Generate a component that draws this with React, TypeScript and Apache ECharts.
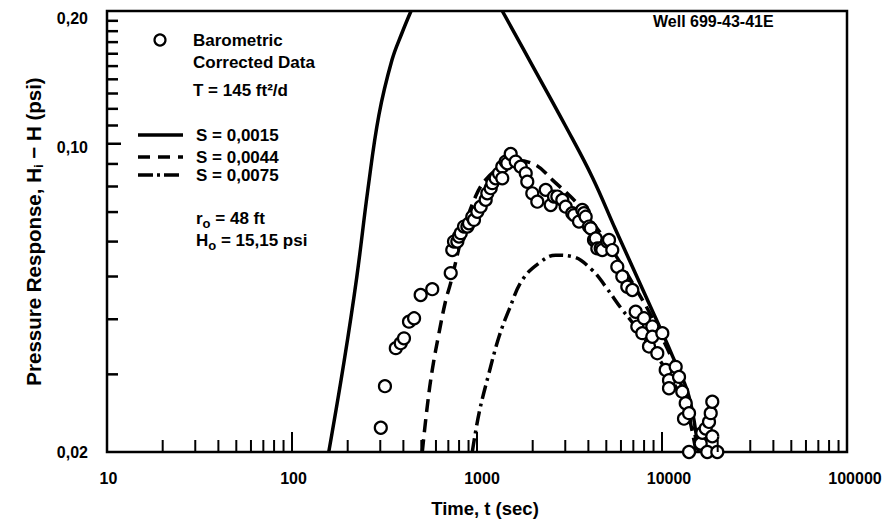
import React, { useEffect, useRef } from "react";
import * as echarts from "echarts";

// ---- data ----
const X_MIN = 10;
const X_MAX = 100000;
const Y_MIN = 0.02;
const Y_MAX = 0.2;

// Theis curve, S = 0.0015 (rising and falling branches; peak is off the chart)
const solidRise: number[][] = [
  [158, 0.02], [191, 0.032], [224, 0.0499], [257, 0.0786], [295, 0.1162],
  [347, 0.1548], [393, 0.1783], [440, 0.2],
];
const solidFall: number[][] = [
  [1370, 0.2], [2000, 0.15], [3000, 0.11], [4200, 0.084], [5600, 0.064],
  [8500, 0.0435], [11400, 0.033], [14000, 0.0267], [15700, 0.02],
];
// S = 0.0044
const dashedCurve: number[][] = [
  [506, 0.02], [538, 0.0253], [573, 0.0307], [623, 0.0372], [678, 0.0442],
  [720, 0.0483], [850, 0.064], [982, 0.0759], [1112, 0.0828], [1350, 0.089],
  [1585, 0.0918], [2075, 0.0895], [2553, 0.0828], [3500, 0.073], [5000, 0.06],
  [7000, 0.048], [9500, 0.038], [12500, 0.029], [15300, 0.02],
];
// S = 0.0075
const dashDotCurve: number[][] = [
  [943, 0.02], [1026, 0.0245], [1161, 0.0302], [1315, 0.0365], [1489, 0.042],
  [1758, 0.0491], [2163, 0.0536], [2662, 0.0559], [3276, 0.0555], [4200, 0.0517],
  [4958, 0.0474], [6100, 0.042], [6765, 0.0398], [8500, 0.035], [11400, 0.029],
  [14000, 0.024], [16000, 0.02],
];
// Barometric corrected data
const observed: number[][] = [
  [302, 0.0227], [318, 0.0282], [364, 0.0344], [387, 0.0353], [403, 0.0362],
  [429, 0.0395], [457, 0.0402], [496, 0.0454], [573, 0.0468], [721, 0.0509],
  [735, 0.0574], [751, 0.06], [783, 0.06], [799, 0.0616], [817, 0.0627],
  [851, 0.0649], [887, 0.0649], [905, 0.066], [943, 0.0683], [963, 0.0672],
  [1004, 0.0701], [1047, 0.072], [1114, 0.0746], [1137, 0.0772], [1186, 0.0793],
  [1210, 0.0814], [1262, 0.0835], [1315, 0.0857], [1370, 0.0887], [1370, 0.0835],
  [1429, 0.0911], [1458, 0.0903], [1521, 0.0948], [1619, 0.0911], [1723, 0.0887],
  [1834, 0.0857], [1870, 0.082], [1990, 0.0772], [2118, 0.0739], [2352, 0.0786],
  [2503, 0.0726], [2608, 0.0759], [2718, 0.0759], [2892, 0.0746], [3017, 0.072],
  [3274, 0.0696], [3345, 0.0689], [3559, 0.0666], [3709, 0.0708], [3788, 0.0696],
  [3869, 0.0683], [4031, 0.0649], [4118, 0.0643], [4290, 0.0605], [4382, 0.061],
  [4471, 0.0579], [4662, 0.0579], [4756, 0.0574], [5062, 0.06], [5171, 0.0605],
  [5387, 0.0574], [5733, 0.0526], [6101, 0.05], [6493, 0.0474], [6911, 0.0466],
  [7207, 0.0416], [7353, 0.0385], [7825, 0.0372], [7992, 0.0402], [8505, 0.0347],
  [8862, 0.0385], [8862, 0.0365], [9432, 0.0335], [10040, 0.0372], [10470, 0.0307],
  [10910, 0.0291], [10910, 0.0279], [11860, 0.0312], [12360, 0.0296], [12870, 0.0274],
  [13150, 0.0238], [13430, 0.0258], [14000, 0.0245], [14000, 0.02], [16190, 0.0209],
  [16510, 0.0221], [17230, 0.0226], [17570, 0.02], [17950, 0.0234], [18340, 0.0245],
  [18700, 0.026], [18700, 0.0217], [19900, 0.02],
];

// tick marks
const xMajorTicks = [100, 1000, 10000];
const xMinorTicks = [
  20, 30, 40, 50, 60, 70, 80, 90,
  200, 300, 400, 500, 600, 700, 800, 900,
  2000, 3000, 4000, 5000, 6000, 7000, 8000, 9000,
  20000, 30000, 40000, 50000, 60000, 70000, 80000, 90000,
];
const yMajorTicks = [0.1];
const yMinorTicks = [
  0.03, 0.04, 0.05, 0.06, 0.07, 0.08, 0.09,
  0.11, 0.12, 0.13, 0.14, 0.15, 0.16, 0.17, 0.18, 0.19,
];

const FONT = "'Liberation Sans', Arial, Helvetica, sans-serif";

function xTickSeries(values: number[], len: number) {
  return {
    type: "custom",
    silent: true,
    z: 5,
    data: values.map((v) => [v, Y_MIN]),
    renderItem: (_p: any, api: any) => {
      const c = api.coord([api.value(0), api.value(1)]);
      return {
        type: "line",
        shape: { x1: c[0], y1: c[1], x2: c[0], y2: c[1] - len },
        style: { stroke: "#000", lineWidth: 2 },
      };
    },
  };
}
function yTickSeries(values: number[], len: number) {
  return {
    type: "custom",
    silent: true,
    z: 5,
    data: values.map((v) => [X_MIN, v]),
    renderItem: (_p: any, api: any) => {
      const c = api.coord([api.value(0), api.value(1)]);
      return {
        type: "line",
        shape: { x1: c[0], y1: c[1], x2: c[0] + len, y2: c[1] },
        style: { stroke: "#000", lineWidth: 2.5 },
      };
    },
  };
}

const lineSeries = (data: number[][], type: any, width: number) => ({
  type: "line",
  data,
  showSymbol: false,
  symbol: "none",
  smooth: 0.4,
  z: 3,
  lineStyle: { color: "#000", width, type },
});

const lbl = (extra: any = {}) => ({
  fontSize: 16,
  fontWeight: "bold",
  fontFamily: FONT,
  color: "#000",
  ...extra,
});

export default function App() {
  const ref = useRef<HTMLDivElement>(null);
  useEffect(() => {
    if (!ref.current) return;
    const chart = echarts.init(ref.current, undefined, { renderer: "svg" });
    const legendText = (text: string, x: number, y: number, extra: any = {}) => ({
      type: "text",
      x,
      y,
      style: {
        text,
        fontFamily: FONT,
        fontWeight: "bold",
        fontSize: 17,
        fill: "#000",
        verticalAlign: "middle",
        ...extra,
      },
    });
    const sampleLine = (y: number, dash: any) => ({
      type: "line",
      shape: { x1: 138, y1: y, x2: 183, y2: y },
      style: { stroke: "#000", lineWidth: 3.5, lineDash: dash },
    });
    const subRich = {
      sub: { fontSize: 13, fontWeight: "bold", fontFamily: FONT, padding: [11, 0, 0, 0] },
    };
    chart.setOption({
      animation: false,
      backgroundColor: "#fff",
      textStyle: { fontFamily: FONT, fontWeight: "bold", color: "#000" },
      grid: {
        left: 107,
        right: 40,
        top: 11,
        bottom: 78,
        show: true,
        borderColor: "#000",
        borderWidth: 2.5,
        backgroundColor: "transparent",
      },
      xAxis: {
        type: "log",
        logBase: 10,
        min: X_MIN,
        max: X_MAX,
        axisLine: { show: false },
        axisTick: { show: false },
        splitLine: { show: false },
        minorTick: { show: false },
        axisLabel: {
          margin: 18,
          ...lbl(),
          formatter: (v: number) => {
            const s = String(Math.round(v));
            const k = s.length <= 3 ? "a" : s.length === 4 ? "b" : s.length === 5 ? "c" : "d";
            return `{${k}|${s}}`;
          },
          rich: {
            a: lbl({ padding: [0, 0, 0, 3] }),
            b: lbl({ padding: [0, 0, 0, 10] }),
            c: lbl({ padding: [0, 0, 0, 14] }),
            d: lbl({ padding: [0, 0, 0, 16] }),
          },
        },
        name: "Time, t (sec)",
        nameLocation: "middle",
        nameGap: 47,
        nameTextStyle: lbl({ fontSize: 18.5, padding: [0, 0, 0, 16] }),
      },
      yAxis: {
        type: "log",
        logBase: 10,
        min: Y_MIN,
        max: Y_MAX,
        axisLine: { show: false },
        axisTick: { show: false },
        splitLine: { show: false },
        minorTick: { show: false },
        axisLabel: {
          margin: 19,
          ...lbl(),
          formatter: (v: number) => {
            const s = v.toFixed(2).replace(".", ",");
            if (v > 0.15) return `{t|${s}}`;
            if (v > 0.05) return `{m|${s}}`;
            return s;
          },
          rich: {
            t: lbl({ padding: [14, 0, 0, 0] }),
            m: lbl({ padding: [8, 0, 0, 0] }),
          },
        },
        name: "Pressure Response, H{sub|i} − H (psi)",
        nameLocation: "middle",
        nameGap: 62,
        nameTextStyle: lbl({
          fontSize: 20.5,
          rich: {
            sub: lbl({ fontSize: 13, padding: [10, 0, 0, 0] }),
          },
        }),
      },
      graphic: [
        {
          type: "circle",
          shape: { cx: 160, cy: 40, r: 5.5 },
          style: { fill: "#fff", stroke: "#000", lineWidth: 2.2 },
        },
        legendText("Barometric", 193, 40),
        legendText("Corrected Data", 193, 62),
        legendText("T = 145 ft²/d", 193, 90),
        sampleLine(135, null),
        legendText("S = 0,0015", 196, 135),
        sampleLine(157, [12, 8]),
        legendText("S = 0,0044", 196, 157),
        sampleLine(175, [15, 4, 3, 4]),
        legendText("S = 0,0075", 196, 175),
        legendText("r{sub|o} = 48 ft", 196, 218, { rich: subRich }),
        legendText("H{sub|o} = 15,15 psi", 196, 240, { rich: subRich }),
        legendText("Well 699-43-41E", 653, 21, { fontSize: 16 }),
      ],
      series: [
        lineSeries(solidRise, "solid", 3.5),
        lineSeries(solidFall, "solid", 3.5),
        lineSeries(dashedCurve, [13, 7], 3.5),
        lineSeries(dashDotCurve, [14, 5, 3, 5], 3.5),
        {
          type: "scatter",
          data: observed,
          symbol: "circle",
          symbolSize: 12,
          clip: false,
          z: 4,
          itemStyle: { color: "#fff", borderColor: "#000", borderWidth: 2.2, opacity: 1 },
        },
        xTickSeries(xMajorTicks, 20),
        xTickSeries(xMinorTicks, 12),
        yTickSeries(yMajorTicks, 14),
        yTickSeries(yMinorTicks, 11),
      ],
    });
    return () => chart.dispose();
  }, []);
  return (
    <div
      ref={ref}
      style={{ position: "fixed", left: 0, top: 0, width: 887, height: 530, background: "#fff" }}
    />
  );
}
